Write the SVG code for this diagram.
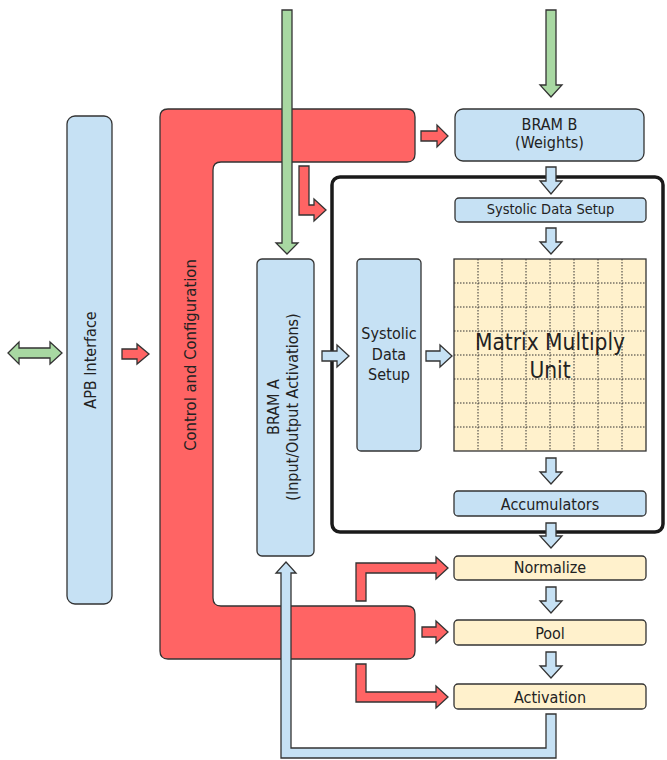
<svg xmlns="http://www.w3.org/2000/svg" width="667" height="760" viewBox="0 0 667 760">
<style>
text{font-family:'DejaVu Sans Condensed','DejaVu Sans',sans-serif;font-stretch:condensed;fill:#222;text-anchor:middle}
.blue{fill:#C6E1F4;stroke:#333;stroke-width:1.3}
.red{fill:#FF6464;stroke:#333;stroke-width:1.3}
.green{fill:#A8D8A2;stroke:#333;stroke-width:1.3}
.yellow{fill:#FFF1CC;stroke:#333;stroke-width:1.3}
.grid{stroke:#333;stroke-width:1;stroke-dasharray:1.5,1.5;fill:none}
.t16{font-size:16px}
</style>
<rect width="667" height="760" fill="#fff"/>
<g id="apb">
<rect class="blue" x="67" y="116" width="45" height="488" rx="8"/>
<text class="t16" transform="translate(90,360) rotate(-90)" y="6">APB Interface</text>
</g>
<g id="control">
<path class="red" d="M168,109 H407 Q415,109 415,117 V154 Q415,162 407,162 H221 Q213,162 213,170 V598 Q213,606 221,606 H407 Q415,606 415,614 V651 Q415,659 407,659 H168 Q160,659 160,651 V117 Q160,109 168,109 Z"/>
<text style="font-size:16.5px" transform="translate(189,355) rotate(-90)" y="7">Control and Configuration</text>
</g>
<g id="tpu">
<rect x="332" y="177" width="331" height="355" rx="8" fill="#fff" stroke="#1a1a1a" stroke-width="3.5"/>
</g>
<g id="brama">
<rect class="blue" x="257" y="259" width="57" height="297" rx="5"/>
<g transform="translate(285,407) rotate(-90)">
<text class="t16" y="-6">BRAM A</text>
<text class="t16" y="13">(Input/Output Activations)</text>
</g>
</g>
<g id="bramb">
<rect class="blue" x="455" y="109" width="189" height="52" rx="8"/>
<text class="t16" x="549.5" y="130">BRAM B</text>
<text class="t16" x="549.5" y="148">(Weights)</text>
</g>
<g id="sds-top">
<rect class="blue" x="455" y="198" width="191" height="24" rx="4"/>
<text x="550.5" y="214" style="font-size:14.5px">Systolic Data Setup</text>
</g>
<g id="sds-left">
<rect class="blue" x="357" y="259" width="64" height="192" rx="4"/>
<text class="t16" x="389" y="339">Systolic</text>
<text class="t16" x="389" y="359.5">Data</text>
<text class="t16" x="389" y="380">Setup</text>
</g>
<g id="mmu">
<rect class="yellow" x="454" y="259" width="192" height="192"/>
<path class="grid" d="M478,259V451M502,259V451M526,259V451M550,259V451M574,259V451M598,259V451M622,259V451M454,283H646M454,307H646M454,331H646M454,355H646M454,379H646M454,403H646M454,427H646"/>
<text x="550" y="350" style="font-size:22.5px">Matrix Multiply</text>
<text x="550" y="378" style="font-size:22.5px">Unit</text>
</g>
<g id="accumulators">
<rect class="blue" x="454" y="491" width="192" height="25" rx="4"/>
<text class="t16" x="550" y="510">Accumulators</text>
</g>
<g id="normalize">
<rect class="yellow" x="454" y="556" width="192" height="24" rx="4"/>
<text class="t16" x="550" y="573">Normalize</text>
</g>
<g id="pool">
<rect class="yellow" x="454" y="620" width="192" height="25" rx="4"/>
<text class="t16" x="550" y="639">Pool</text>
</g>
<g id="activation">
<rect class="yellow" x="454" y="684" width="192" height="25" rx="4"/>
<text class="t16" x="550" y="703">Activation</text>
</g>
<g id="connectors" stroke-linejoin="miter">
<polygon class="green" points="8,353 19,342 19,348 50,348 50,342 62,353 50,364 50,358 19,358 19,364"/>
<polygon class="red" points="122,349 137,349 137,344 149,354 137,364 137,359 122,359"/>
<polygon class="red" points="421,131 437,131 437,125 448,136 437,147 437,141 421,141"/>
<polygon class="red" points="299,166 309,166 309,205 314,205 314,199 326,210 314,221 314,215 299,215"/>
<polygon class="green" points="282,10 292,10 292,243 298,243 287,254 276,243 282,243"/>
<polygon class="green" points="546,10 556,10 556,85 562,85 551,97 540,85 546,85"/>
<polygon class="blue" points="546,167 556,167 556,181 562,181 551,194 540,181 546,181"/>
<polygon class="blue" points="546,228 556,228 556,242 562,242 551,254 540,242 546,242"/>
<polygon class="blue" points="546,458 556,458 556,472 562,472 551,484 540,472 546,472"/>
<polygon class="blue" points="546,523 556,523 556,536 562,536 551,548 540,536 546,536"/>
<polygon class="blue" points="546,587 556,587 556,601 562,601 551,613 540,601 546,601"/>
<polygon class="blue" points="546,652 556,652 556,666 562,666 551,678 540,666 546,666"/>
<polygon class="blue" points="322,351 337,351 337,345 349,356 337,367 337,361 322,361"/>
<polygon class="blue" points="426,351 440,351 440,345 452,356 440,367 440,361 426,361"/>
<polygon class="red" points="356,601 356,563 436,563 436,557 448,568 436,579 436,573 366,573 366,601"/>
<polygon class="red" points="422,627 436,627 436,621 448,632 436,643 436,637 422,637"/>
<polygon class="red" points="356,664 366,664 366,692 436,692 436,686 448,697 436,708 436,702 356,702"/>
<polygon class="blue" points="546,714 556,714 556,758 281,758 281,573 276,573 286,562 296,573 291,573 291,748 546,748"/>
</g>
</svg>
